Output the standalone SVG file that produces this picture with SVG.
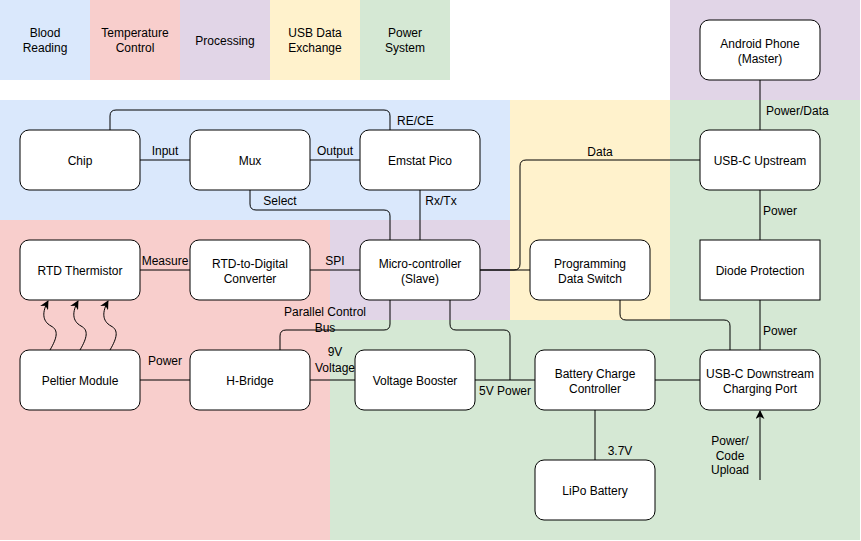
<svg xmlns="http://www.w3.org/2000/svg" width="861" height="541" viewBox="0 0 861 541">
<defs>
<style>
text{font-family:"Liberation Sans",Arial,sans-serif;font-size:12px;fill:#000;}
.c{text-anchor:middle;}
.n{fill:#fff;stroke:#000;stroke-width:1;}
.e{fill:none;stroke:#000;stroke-width:1;}
.blue{fill:#dae8fc;}
.red{fill:#f8cecc;}
.purple{fill:#e1d5e7;}
.yellow{fill:#fff2cc;}
.green{fill:#d5e8d4;}
</style>
<marker id="arr" viewBox="0 0 10 10" refX="9" refY="5" markerWidth="9" markerHeight="9" markerUnits="userSpaceOnUse" orient="auto">
<path d="M0,0 L10,5 L0,10 L3,5 Z" fill="#000"/>
</marker>
</defs>
<rect width="861" height="541" fill="#fff"/>
<g id="regions">
<rect class="blue" x="0" y="100" width="510" height="120"/>
<rect class="red" x="0" y="220" width="330" height="320"/>
<rect class="purple" x="330" y="220" width="180" height="100"/>
<rect class="yellow" x="510" y="100" width="160" height="220"/>
<rect class="green" x="670" y="100" width="190" height="220"/>
<rect class="green" x="330" y="320" width="530" height="220"/>
<rect class="purple" x="670" y="0" width="190" height="100"/>
</g>
<g id="legend">
<rect class="blue" x="0" y="0" width="90" height="80"/>
<text class="c" x="45" y="37">Blood</text>
<text class="c" x="45" y="52">Reading</text>
<rect class="red" x="90" y="0" width="90" height="80"/>
<text class="c" x="135" y="37">Temperature</text>
<text class="c" x="135" y="52">Control</text>
<rect class="purple" x="180" y="0" width="90" height="80"/>
<text class="c" x="225" y="45">Processing</text>
<rect class="yellow" x="270" y="0" width="90" height="80"/>
<text class="c" x="315" y="37">USB Data</text>
<text class="c" x="315" y="52">Exchange</text>
<rect class="green" x="360" y="0" width="90" height="80"/>
<text class="c" x="405" y="37">Power</text>
<text class="c" x="405" y="52">System</text>
</g>
<g id="connectors">
<path class="e" d="M110,130 V116 Q110,110 116,110 H384 Q390,110 390,116 V130"/>
<path class="e" d="M140,160 H190"/>
<path class="e" d="M310,160 H360"/>
<path class="e" d="M250,190 V204 Q250,210 256,210 H384 Q390,210 390,216 V240"/>
<path class="e" d="M420,190 V240"/>
<path class="e" d="M140,270 H190"/>
<path class="e" d="M310,270 H360"/>
<path class="e" d="M480,270 H530"/>
<path class="e" d="M480,270 H514 Q520,270 520,264 V166 Q520,160 526,160 H700"/>
<path class="e" d="M620,300 V314 Q620,320 626,320 H724 Q730,320 730,326 V350"/>
<path class="e" d="M760,80 V130"/>
<path class="e" d="M760,190 V240"/>
<path class="e" d="M760,300 V350"/>
<path class="e" d="M390,300 V324 Q390,330 384,330 H286 Q280,330 280,336 V350"/>
<path class="e" d="M450,300 V324 Q450,330 456,330 H504 Q510,330 510,336 V380"/>
<path class="e" d="M140,380 H190"/>
<path class="e" d="M310,380 H355"/>
<path class="e" d="M475,380 H535"/>
<path class="e" d="M655,380 H700"/>
<path class="e" d="M595,410 V460"/>
<path class="e" d="M760,480 V411" marker-end="url(#arr)"/>
<path class="e" d="M50,350 C57,338 59,330 51,326 C42,321 42,312 48,301" marker-end="url(#arr)"/>
<path class="e" d="M80,350 C87,338 89,330 81,326 C72,321 72,312 78,301" marker-end="url(#arr)"/>
<path class="e" d="M110,350 C117,338 119,330 111,326 C102,321 102,312 108,301" marker-end="url(#arr)"/>
<text x="397" y="125">RE/CE</text>
<text class="c" x="165" y="155">Input</text>
<text class="c" x="335" y="155">Output</text>
<text class="c" x="280" y="205">Select</text>
<text class="c" x="441" y="205">Rx/Tx</text>
<text class="c" x="165" y="265">Measure</text>
<text class="c" x="335" y="265">SPI</text>
<text class="c" x="600" y="156">Data</text>
<text x="766" y="115">Power/Data</text>
<text x="763" y="215">Power</text>
<text x="763" y="335">Power</text>
<text class="c" x="325" y="316">Parallel Control</text>
<text class="c" x="325" y="332">Bus</text>
<text class="c" x="335" y="356">9V</text>
<text class="c" x="335" y="372">Voltage</text>
<text class="c" x="505" y="395">5V Power</text>
<text class="c" x="165" y="365">Power</text>
<text class="c" x="620" y="455">3.7V</text>
<text class="c" x="730" y="445">Power/</text>
<text class="c" x="730" y="460">Code</text>
<text class="c" x="730" y="474">Upload</text>
</g>
<g id="chip"><rect class="n" x="20" y="130" width="120" height="60" rx="9"/><text class="c" x="80" y="165">Chip</text></g>
<g id="mux"><rect class="n" x="190" y="130" width="120" height="60" rx="9"/><text class="c" x="250" y="165">Mux</text></g>
<g id="emstat"><rect class="n" x="360" y="130" width="120" height="60" rx="9"/><text class="c" x="420" y="165">Emstat Pico</text></g>
<g id="rtd"><rect class="n" x="20" y="240" width="120" height="60" rx="9"/><text class="c" x="80" y="275">RTD Thermistor</text></g>
<g id="rtdconv"><rect class="n" x="190" y="240" width="120" height="60" rx="9"/><text class="c" x="250" y="268">RTD-to-Digital</text><text class="c" x="250" y="283">Converter</text></g>
<g id="micro"><rect class="n" x="360" y="240" width="120" height="60" rx="9"/><text class="c" x="420" y="268">Micro-controller</text><text class="c" x="420" y="283">(Slave)</text></g>
<g id="progswitch"><rect class="n" x="530" y="240" width="120" height="60" rx="9"/><text class="c" x="590" y="268">Programming</text><text class="c" x="590" y="283">Data Switch</text></g>
<g id="android"><rect class="n" x="700" y="20" width="120" height="60" rx="9"/><text class="c" x="760" y="48">Android Phone</text><text class="c" x="760" y="63">(Master)</text></g>
<g id="usbup"><rect class="n" x="700" y="130" width="120" height="60" rx="9"/><text class="c" x="760" y="165">USB-C Upstream</text></g>
<g id="diode"><rect class="n" x="700" y="240" width="120" height="60"/><text class="c" x="760" y="275">Diode Protection</text></g>
<g id="peltier"><rect class="n" x="20" y="350" width="120" height="60" rx="9"/><text class="c" x="80" y="385">Peltier Module</text></g>
<g id="hbridge"><rect class="n" x="190" y="350" width="120" height="60" rx="9"/><text class="c" x="250" y="385">H-Bridge</text></g>
<g id="booster"><rect class="n" x="355" y="350" width="120" height="60" rx="9"/><text class="c" x="415" y="385">Voltage Booster</text></g>
<g id="charger"><rect class="n" x="535" y="350" width="120" height="60" rx="9"/><text class="c" x="595" y="378">Battery Charge</text><text class="c" x="595" y="393">Controller</text></g>
<g id="usbdown"><rect class="n" x="700" y="350" width="120" height="60" rx="9"/><text class="c" x="760" y="378">USB-C Downstream</text><text class="c" x="760" y="393">Charging Port</text></g>
<g id="lipo"><rect class="n" x="535" y="460" width="120" height="60" rx="9"/><text class="c" x="595" y="495">LiPo Battery</text></g>
</svg>
